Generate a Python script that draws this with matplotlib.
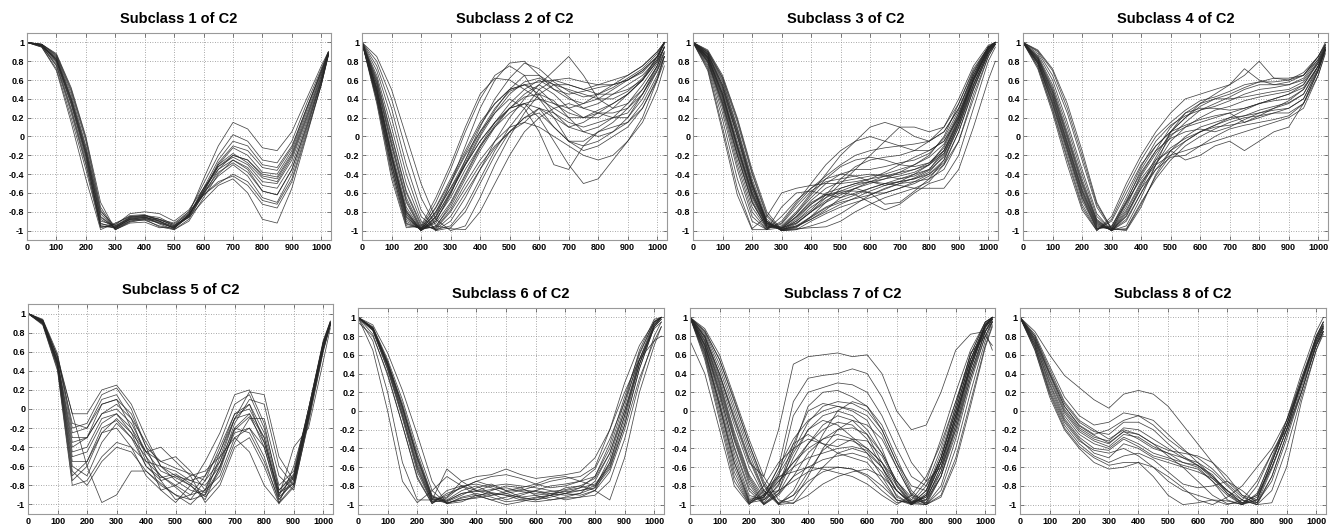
import matplotlib
matplotlib.use("Agg")
import matplotlib.pyplot as plt

# sample positions shared by every curve
x_knots = [0, 50, 100, 150, 200, 250, 300, 350, 400, 450, 500,
           550, 600, 650, 700, 750, 800, 850, 900, 950, 1000, 1024]

subclass1 = [
    [1.00, 0.97, 0.82, 0.40, -0.15, -0.85, -0.97, -0.88, -0.86, -0.90, -0.98, -0.82, -0.45, -0.10, 0.15, 0.08, -0.12, -0.15, 0.05, 0.40, 0.75, 0.90],
    [1.00, 0.98, 0.85, 0.45, -0.10, -0.80, -0.95, -0.85, -0.84, -0.88, -0.95, -0.80, -0.50, -0.20, 0.02, -0.05, -0.25, -0.28, -0.05, 0.35, 0.72, 0.90],
    [1.00, 0.96, 0.78, 0.30, -0.25, -0.92, -0.98, -0.90, -0.87, -0.92, -0.97, -0.85, -0.55, -0.25, -0.05, -0.10, -0.30, -0.33, -0.10, 0.30, 0.70, 0.88],
    [1.00, 0.97, 0.80, 0.35, -0.20, -0.95, -0.96, -0.86, -0.85, -0.93, -0.99, -0.88, -0.60, -0.30, -0.12, -0.20, -0.38, -0.40, -0.15, 0.28, 0.70, 0.90],
    [1.00, 0.95, 0.72, 0.20, -0.35, -0.97, -0.93, -0.84, -0.83, -0.90, -0.96, -0.86, -0.62, -0.35, -0.20, -0.25, -0.42, -0.45, -0.20, 0.22, 0.65, 0.88],
    [1.00, 0.98, 0.88, 0.52, 0.00, -0.70, -0.99, -0.90, -0.89, -0.95, -0.98, -0.84, -0.58, -0.32, -0.22, -0.30, -0.48, -0.50, -0.25, 0.18, 0.62, 0.87],
    [1.00, 0.97, 0.82, 0.38, -0.18, -0.90, -0.94, -0.82, -0.80, -0.82, -0.90, -0.78, -0.55, -0.35, -0.25, -0.33, -0.52, -0.55, -0.30, 0.15, 0.60, 0.88],
    [1.00, 0.96, 0.76, 0.28, -0.28, -0.95, -0.97, -0.88, -0.88, -0.96, -0.99, -0.90, -0.65, -0.40, -0.25, -0.35, -0.58, -0.62, -0.35, 0.10, 0.58, 0.87],
    [1.00, 0.98, 0.86, 0.48, -0.05, -0.78, -0.99, -0.92, -0.91, -0.97, -0.96, -0.83, -0.60, -0.42, -0.30, -0.42, -0.65, -0.70, -0.40, 0.08, 0.58, 0.88],
    [1.00, 0.97, 0.80, 0.34, -0.22, -0.93, -0.95, -0.87, -0.85, -0.88, -0.92, -0.80, -0.62, -0.50, -0.40, -0.48, -0.68, -0.72, -0.45, 0.05, 0.55, 0.86],
    [1.00, 0.95, 0.70, 0.15, -0.45, -0.99, -0.92, -0.85, -0.84, -0.86, -0.94, -0.86, -0.68, -0.52, -0.45, -0.60, -0.88, -0.92, -0.55, 0.00, 0.55, 0.87],
    [1.00, 0.97, 0.84, 0.42, -0.12, -0.82, -0.98, -0.89, -0.87, -0.91, -0.97, -0.84, -0.57, -0.30, -0.18, -0.28, -0.44, -0.48, -0.22, 0.20, 0.64, 0.89],
    [1.00, 0.97, 0.81, 0.37, -0.18, -0.88, -0.97, -0.87, -0.86, -0.90, -0.96, -0.83, -0.55, -0.32, -0.20, -0.25, -0.40, -0.43, -0.18, 0.25, 0.67, 0.89],
    [1.00, 0.98, 0.87, 0.50, -0.02, -0.75, -0.99, -0.91, -0.88, -0.92, -0.97, -0.85, -0.60, -0.38, -0.28, -0.38, -0.58, -0.62, -0.35, 0.12, 0.60, 0.88],
    [1.00, 0.96, 0.75, 0.25, -0.30, -0.96, -0.96, -0.86, -0.84, -0.88, -0.95, -0.84, -0.58, -0.28, -0.10, -0.15, -0.33, -0.36, -0.12, 0.30, 0.68, 0.89],
    [1.00, 0.97, 0.83, 0.40, -0.15, -0.86, -0.97, -0.88, -0.86, -0.89, -0.93, -0.82, -0.62, -0.48, -0.42, -0.52, -0.72, -0.76, -0.48, 0.02, 0.55, 0.86],
]

subclass2 = [
    [1.00, 0.50, -0.20, -0.80, -0.99, -0.90, -0.62, -0.25, 0.10, 0.40, 0.62, 0.78, 0.72, 0.58, 0.48, 0.42, 0.45, 0.52, 0.62, 0.72, 0.88, 1.00],
    [1.00, 0.40, -0.35, -0.92, -0.98, -0.75, -0.45, -0.15, 0.15, 0.35, 0.50, 0.55, 0.50, 0.35, 0.25, 0.20, 0.28, 0.35, 0.45, 0.60, 0.80, 0.95],
    [1.00, 0.55, -0.10, -0.70, -0.99, -0.95, -0.75, -0.45, -0.15, 0.10, 0.30, 0.45, 0.55, 0.45, 0.30, 0.20, 0.20, 0.30, 0.45, 0.60, 0.85, 1.00],
    [1.00, 0.45, -0.30, -0.88, -0.99, -0.80, -0.55, -0.30, -0.05, 0.15, 0.30, 0.35, 0.30, 0.10, -0.05, -0.05, 0.05, 0.15, 0.30, 0.50, 0.75, 0.90],
    [1.00, 0.60, 0.00, -0.60, -0.95, -0.98, -0.80, -0.55, -0.30, -0.10, 0.05, 0.15, 0.30, 0.20, -0.05, -0.10, -0.05, 0.05, 0.15, 0.35, 0.65, 0.85],
    [1.00, 0.48, -0.22, -0.82, -1.00, -0.85, -0.50, -0.10, 0.30, 0.60, 0.78, 0.80, 0.65, 0.50, 0.45, 0.48, 0.52, 0.55, 0.60, 0.70, 0.85, 1.00],
    [1.00, 0.85, 0.50, 0.00, -0.50, -0.88, -1.00, -0.95, -0.65, -0.30, 0.00, 0.25, 0.45, 0.55, 0.55, 0.50, 0.45, 0.45, 0.50, 0.60, 0.80, 0.95],
    [1.00, 0.80, 0.40, -0.15, -0.65, -0.95, -0.98, -0.99, -0.80, -0.50, -0.20, 0.05, 0.20, 0.30, 0.35, 0.30, 0.25, 0.25, 0.30, 0.45, 0.70, 0.85],
    [1.00, 0.65, 0.10, -0.50, -0.90, -1.00, -0.90, -0.65, -0.35, -0.05, 0.20, 0.40, 0.55, 0.70, 0.85, 0.65, 0.40, 0.30, 0.35, 0.50, 0.75, 0.95],
    [1.00, 0.50, -0.20, -0.80, -1.00, -0.85, -0.60, -0.30, -0.05, 0.15, 0.30, 0.35, 0.20, -0.05, -0.30, -0.50, -0.45, -0.25, -0.05, 0.20, 0.60, 0.85],
    [1.00, 0.42, -0.30, -0.90, -0.99, -0.80, -0.50, -0.20, 0.05, 0.25, 0.40, 0.30, 0.05, -0.30, -0.35, -0.10, 0.05, 0.10, 0.15, 0.30, 0.60, 0.80],
    [1.00, 0.52, -0.15, -0.75, -0.99, -0.92, -0.70, -0.40, -0.10, 0.15, 0.35, 0.50, 0.60, 0.50, 0.40, 0.35, 0.40, 0.50, 0.60, 0.70, 0.85, 1.00],
    [1.00, 0.38, -0.40, -0.95, -0.97, -0.70, -0.35, 0.05, 0.40, 0.65, 0.75, 0.65, 0.40, 0.20, 0.10, 0.15, 0.25, 0.35, 0.45, 0.60, 0.82, 1.00],
    [1.00, 0.58, -0.05, -0.65, -0.97, -0.97, -0.78, -0.50, -0.25, -0.05, 0.10, 0.15, 0.10, 0.00, -0.10, -0.20, -0.25, -0.20, -0.05, 0.15, 0.50, 0.75],
    [1.00, 0.70, 0.20, -0.40, -0.85, -0.99, -0.95, -0.75, -0.45, -0.15, 0.10, 0.30, 0.50, 0.60, 0.55, 0.50, 0.55, 0.60, 0.65, 0.75, 0.90, 1.00],
    [1.00, 0.46, -0.25, -0.85, -1.00, -0.88, -0.65, -0.35, -0.10, 0.10, 0.25, 0.35, 0.40, 0.30, 0.20, 0.20, 0.25, 0.20, 0.20, 0.40, 0.70, 0.90],
    [1.00, 0.35, -0.45, -0.97, -0.95, -0.65, -0.30, 0.10, 0.45, 0.62, 0.60, 0.50, 0.40, 0.35, 0.30, 0.35, 0.45, 0.55, 0.65, 0.75, 0.90, 1.00],
    [1.00, 0.52, -0.18, -0.78, -1.00, -0.90, -0.60, -0.30, 0.00, 0.25, 0.45, 0.58, 0.62, 0.55, 0.42, 0.30, 0.35, 0.45, 0.55, 0.65, 0.82, 1.00],
    [1.00, 0.44, -0.28, -0.86, -0.99, -0.82, -0.55, -0.25, 0.05, 0.30, 0.48, 0.55, 0.45, 0.25, 0.10, 0.05, 0.10, 0.20, 0.35, 0.55, 0.78, 0.95],
    [1.00, 0.75, 0.30, -0.30, -0.78, -1.00, -0.97, -0.80, -0.50, -0.20, 0.05, 0.20, 0.30, 0.25, 0.15, 0.10, 0.15, 0.20, 0.25, 0.45, 0.72, 0.88],
    [1.00, 0.56, -0.08, -0.68, -0.98, -0.96, -0.72, -0.42, -0.12, 0.12, 0.30, 0.42, 0.45, 0.38, 0.20, 0.05, 0.00, 0.05, 0.20, 0.45, 0.75, 0.95],
    [1.00, 0.48, -0.22, -0.83, -1.00, -0.86, -0.58, -0.28, 0.02, 0.28, 0.50, 0.65, 0.65, 0.55, 0.50, 0.45, 0.40, 0.40, 0.48, 0.62, 0.85, 1.00],
    [1.00, 0.62, 0.02, -0.58, -0.93, -0.99, -0.85, -0.60, -0.35, -0.12, 0.05, 0.20, 0.25, 0.10, -0.05, -0.15, -0.10, 0.00, 0.10, 0.30, 0.62, 0.85],
    [1.00, 0.40, -0.35, -0.93, -0.98, -0.76, -0.48, -0.18, 0.12, 0.35, 0.50, 0.55, 0.58, 0.60, 0.62, 0.58, 0.55, 0.55, 0.60, 0.68, 0.85, 0.98],
]

subclass3 = [
    [1.00, 0.88, 0.55, 0.05, -0.50, -0.90, -1.00, -0.90, -0.75, -0.65, -0.58, -0.52, -0.48, -0.45, -0.42, -0.38, -0.30, -0.10, 0.25, 0.65, 0.95, 1.00],
    [1.00, 0.82, 0.40, -0.15, -0.65, -0.95, -0.98, -0.85, -0.68, -0.55, -0.48, -0.45, -0.42, -0.40, -0.35, -0.30, -0.20, 0.00, 0.35, 0.72, 0.95, 1.00],
    [1.00, 0.90, 0.62, 0.15, -0.40, -0.85, -1.00, -0.97, -0.85, -0.75, -0.68, -0.62, -0.55, -0.50, -0.48, -0.45, -0.40, -0.25, 0.10, 0.55, 0.90, 0.98],
    [1.00, 0.78, 0.30, -0.30, -0.80, -0.99, -0.90, -0.70, -0.50, -0.30, -0.15, -0.05, 0.00, -0.05, -0.10, -0.15, -0.15, -0.05, 0.25, 0.60, 0.92, 1.00],
    [1.00, 0.85, 0.48, -0.05, -0.55, -0.92, -0.99, -0.92, -0.80, -0.65, -0.50, -0.35, -0.20, -0.05, 0.10, 0.10, 0.05, 0.10, 0.35, 0.70, 0.95, 1.00],
    [1.00, 0.72, 0.10, -0.55, -0.98, -0.85, -0.60, -0.55, -0.52, -0.50, -0.50, -0.48, -0.45, -0.42, -0.40, -0.35, -0.28, -0.15, 0.15, 0.55, 0.90, 1.00],
    [1.00, 0.88, 0.55, 0.05, -0.50, -0.92, -0.97, -0.85, -0.70, -0.62, -0.60, -0.62, -0.70, -0.78, -0.72, -0.60, -0.50, -0.45, -0.20, 0.30, 0.80, 0.95],
    [1.00, 0.86, 0.50, 0.00, -0.55, -0.92, -1.00, -0.98, -0.97, -0.96, -0.90, -0.80, -0.72, -0.65, -0.60, -0.55, -0.48, -0.30, 0.05, 0.50, 0.88, 1.00],
    [1.00, 0.80, 0.35, -0.20, -0.70, -0.97, -0.95, -0.80, -0.60, -0.40, -0.20, -0.05, 0.10, 0.15, 0.10, 0.00, -0.05, 0.05, 0.30, 0.65, 0.92, 1.00],
    [1.00, 0.92, 0.65, 0.20, -0.35, -0.80, -0.99, -0.95, -0.85, -0.70, -0.55, -0.50, -0.48, -0.50, -0.52, -0.55, -0.55, -0.55, -0.35, 0.10, 0.60, 0.80],
    [1.00, 0.84, 0.45, -0.10, -0.60, -0.94, -0.99, -0.88, -0.72, -0.60, -0.55, -0.50, -0.45, -0.38, -0.30, -0.22, -0.15, -0.05, 0.20, 0.60, 0.93, 1.00],
    [1.00, 0.76, 0.25, -0.35, -0.85, -0.99, -0.75, -0.60, -0.58, -0.62, -0.65, -0.60, -0.55, -0.50, -0.45, -0.40, -0.35, -0.15, 0.20, 0.62, 0.93, 1.00],
    [1.00, 0.87, 0.52, 0.00, -0.52, -0.90, -1.00, -0.93, -0.80, -0.70, -0.62, -0.55, -0.60, -0.72, -0.70, -0.58, -0.45, -0.25, 0.15, 0.60, 0.92, 1.00],
    [1.00, 0.83, 0.42, -0.12, -0.62, -0.95, -0.98, -0.90, -0.78, -0.62, -0.45, -0.32, -0.25, -0.22, -0.20, -0.15, -0.05, 0.10, 0.40, 0.75, 0.97, 1.00],
    [1.00, 0.90, 0.60, 0.10, -0.45, -0.88, -1.00, -0.99, -0.90, -0.82, -0.75, -0.70, -0.65, -0.60, -0.55, -0.50, -0.42, -0.30, -0.05, 0.40, 0.85, 0.98],
    [1.00, 0.81, 0.38, -0.18, -0.68, -0.96, -0.97, -0.82, -0.65, -0.50, -0.40, -0.35, -0.35, -0.32, -0.28, -0.25, -0.18, -0.02, 0.28, 0.68, 0.95, 1.00],
    [1.00, 0.85, 0.45, -0.10, -0.60, -0.93, -0.99, -0.95, -0.88, -0.80, -0.72, -0.65, -0.58, -0.52, -0.48, -0.45, -0.38, -0.20, 0.15, 0.58, 0.92, 1.00],
    [1.00, 0.79, 0.33, -0.25, -0.75, -0.98, -0.93, -0.75, -0.58, -0.48, -0.45, -0.42, -0.40, -0.42, -0.45, -0.42, -0.35, -0.18, 0.18, 0.62, 0.94, 1.00],
    [1.00, 0.70, 0.05, -0.62, -0.99, -0.99, -0.97, -0.92, -0.80, -0.68, -0.60, -0.55, -0.50, -0.45, -0.38, -0.30, -0.22, -0.08, 0.22, 0.62, 0.93, 1.00],
    [1.00, 0.89, 0.58, 0.08, -0.48, -0.90, -0.99, -0.96, -0.88, -0.78, -0.65, -0.55, -0.48, -0.42, -0.38, -0.35, -0.30, -0.18, 0.12, 0.55, 0.90, 1.00],
    [1.00, 0.83, 0.43, -0.12, -0.63, -0.95, -0.96, -0.82, -0.62, -0.45, -0.32, -0.25, -0.22, -0.25, -0.30, -0.32, -0.28, -0.12, 0.22, 0.65, 0.95, 1.00],
    [1.00, 0.87, 0.53, 0.02, -0.52, -0.91, -1.00, -0.96, -0.86, -0.76, -0.70, -0.66, -0.62, -0.56, -0.50, -0.44, -0.36, -0.22, 0.10, 0.52, 0.88, 0.98],
    [1.00, 0.80, 0.36, -0.20, -0.70, -0.97, -0.92, -0.72, -0.55, -0.45, -0.40, -0.42, -0.48, -0.52, -0.48, -0.40, -0.30, -0.15, 0.18, 0.60, 0.92, 1.00],
    [1.00, 0.91, 0.63, 0.18, -0.38, -0.83, -1.00, -0.99, -0.95, -0.90, -0.82, -0.72, -0.62, -0.55, -0.50, -0.48, -0.45, -0.35, -0.05, 0.45, 0.85, 0.98],
    [1.00, 0.74, 0.18, -0.45, -0.90, -0.99, -0.85, -0.68, -0.55, -0.42, -0.30, -0.20, -0.15, -0.12, -0.10, -0.08, -0.05, 0.05, 0.30, 0.68, 0.95, 1.00],
    [1.00, 0.84, 0.46, -0.08, -0.58, -0.93, -0.98, -0.86, -0.72, -0.62, -0.58, -0.58, -0.60, -0.60, -0.55, -0.48, -0.40, -0.28, 0.05, 0.50, 0.88, 1.00],
]

subclass4 = [
    [1.00, 0.80, 0.40, -0.10, -0.60, -0.95, -0.99, -0.70, -0.35, -0.10, 0.05, 0.12, 0.18, 0.22, 0.25, 0.30, 0.35, 0.40, 0.45, 0.55, 0.80, 0.95],
    [1.00, 0.85, 0.52, 0.05, -0.45, -0.88, -1.00, -0.85, -0.55, -0.25, 0.00, 0.15, 0.28, 0.35, 0.42, 0.50, 0.55, 0.55, 0.55, 0.60, 0.80, 0.95],
    [1.00, 0.92, 0.72, 0.35, -0.15, -0.70, -0.98, -1.00, -0.75, -0.40, -0.15, 0.00, 0.10, 0.15, 0.20, 0.22, 0.25, 0.30, 0.38, 0.50, 0.75, 0.92],
    [1.00, 0.75, 0.30, -0.22, -0.72, -0.99, -0.90, -0.60, -0.30, -0.10, 0.05, 0.20, 0.35, 0.45, 0.55, 0.72, 0.60, 0.55, 0.58, 0.65, 0.85, 1.00],
    [1.00, 0.82, 0.45, -0.05, -0.55, -0.92, -1.00, -0.80, -0.50, -0.30, -0.20, -0.15, -0.10, -0.05, 0.00, 0.05, 0.10, 0.15, 0.20, 0.30, 0.65, 0.90],
    [1.00, 0.78, 0.35, -0.15, -0.65, -0.98, -0.95, -0.70, -0.45, -0.25, -0.15, -0.25, -0.20, -0.10, -0.05, -0.15, -0.05, 0.05, 0.10, 0.35, 0.70, 0.92],
    [1.00, 0.88, 0.60, 0.15, -0.35, -0.82, -1.00, -0.95, -0.65, -0.30, 0.05, 0.25, 0.35, 0.40, 0.40, 0.42, 0.45, 0.48, 0.50, 0.58, 0.78, 0.93],
    [1.00, 0.80, 0.42, -0.08, -0.58, -0.94, -0.99, -0.75, -0.40, -0.15, 0.10, 0.25, 0.30, 0.30, 0.28, 0.30, 0.35, 0.38, 0.40, 0.50, 0.75, 0.93],
    [1.00, 0.72, 0.25, -0.30, -0.78, -1.00, -0.85, -0.50, -0.20, 0.05, 0.25, 0.40, 0.45, 0.50, 0.55, 0.65, 0.80, 0.62, 0.60, 0.68, 0.85, 0.98],
    [1.00, 0.83, 0.48, 0.00, -0.50, -0.90, -1.00, -0.82, -0.55, -0.35, -0.22, -0.20, -0.10, 0.00, 0.08, 0.12, 0.15, 0.18, 0.22, 0.35, 0.70, 0.93],
    [1.00, 0.90, 0.65, 0.25, -0.25, -0.75, -0.99, -0.98, -0.70, -0.45, -0.25, -0.10, 0.00, 0.08, 0.15, 0.20, 0.22, 0.25, 0.25, 0.35, 0.65, 0.88],
    [1.00, 0.77, 0.33, -0.18, -0.68, -0.98, -0.96, -0.65, -0.32, -0.05, 0.12, 0.22, 0.28, 0.32, 0.38, 0.45, 0.50, 0.52, 0.55, 0.62, 0.82, 0.97],
    [1.00, 0.84, 0.50, 0.02, -0.48, -0.89, -1.00, -0.88, -0.60, -0.35, -0.15, -0.05, 0.05, 0.12, 0.18, 0.22, 0.28, 0.32, 0.36, 0.45, 0.72, 0.92],
    [1.00, 0.79, 0.38, -0.12, -0.62, -0.96, -0.98, -0.72, -0.42, -0.18, 0.02, 0.10, 0.15, 0.20, 0.25, 0.15, 0.22, 0.30, 0.35, 0.45, 0.75, 0.95],
    [1.00, 0.86, 0.55, 0.10, -0.40, -0.85, -1.00, -0.90, -0.60, -0.30, -0.05, 0.10, 0.20, 0.28, 0.32, 0.38, 0.42, 0.45, 0.48, 0.55, 0.78, 0.95],
    [1.00, 0.74, 0.28, -0.25, -0.75, -1.00, -0.88, -0.55, -0.25, 0.00, 0.15, 0.28, 0.38, 0.42, 0.48, 0.55, 0.58, 0.58, 0.60, 0.65, 0.85, 0.98],
    [1.00, 0.81, 0.43, -0.07, -0.57, -0.93, -0.99, -0.78, -0.48, -0.28, -0.12, -0.02, 0.05, 0.10, 0.12, 0.15, 0.20, 0.25, 0.30, 0.40, 0.70, 0.92],
    [1.00, 0.91, 0.70, 0.30, -0.20, -0.72, -0.98, -0.99, -0.72, -0.42, -0.20, -0.05, 0.05, 0.12, 0.20, 0.28, 0.35, 0.40, 0.45, 0.52, 0.75, 0.92],
    [1.00, 0.78, 0.36, -0.14, -0.64, -0.97, -0.97, -0.68, -0.38, -0.15, -0.02, 0.05, 0.08, 0.05, 0.10, 0.18, 0.25, 0.28, 0.30, 0.40, 0.72, 0.93],
    [1.00, 0.83, 0.47, -0.02, -0.52, -0.91, -1.00, -0.84, -0.52, -0.22, 0.05, 0.20, 0.32, 0.40, 0.45, 0.52, 0.58, 0.62, 0.62, 0.65, 0.82, 0.97],
]

subclass5 = [
    [1.00, 0.92, 0.50, -0.40, -0.30, 0.05, 0.10, -0.20, -0.55, -0.70, -0.80, -0.90, -0.85, -0.45, -0.05, 0.05, -0.35, -0.90, -0.70, 0.00, 0.70, 0.90],
    [1.00, 0.90, 0.45, -0.60, -0.70, -0.35, -0.15, -0.30, -0.50, -0.70, -0.82, -0.95, -0.90, -0.50, -0.10, -0.05, -0.40, -0.95, -0.75, -0.05, 0.65, 0.90],
    [1.00, 0.94, 0.58, -0.20, -0.15, 0.15, 0.22, 0.00, -0.40, -0.75, -0.95, -0.90, -0.70, -0.35, 0.05, 0.15, -0.20, -0.80, -0.65, 0.00, 0.72, 0.92],
    [1.00, 0.88, 0.40, -0.80, -0.75, -0.50, -0.35, -0.40, -0.55, -0.60, -0.65, -0.75, -0.80, -0.60, -0.25, -0.20, -0.50, -0.98, -0.80, -0.10, 0.62, 0.88],
    [1.00, 0.91, 0.50, -0.35, -0.30, -0.05, 0.00, -0.15, -0.45, -0.65, -0.72, -0.80, -0.95, -0.60, -0.15, 0.10, 0.05, -0.60, -0.80, -0.10, 0.65, 0.90],
    [1.00, 0.93, 0.55, -0.25, -0.20, 0.10, 0.15, -0.10, -0.50, -0.85, -0.98, -0.80, -0.55, -0.25, 0.15, 0.20, -0.15, -0.85, -0.70, 0.00, 0.70, 0.92],
    [1.00, 0.90, 0.48, -0.50, -0.45, -0.15, -0.05, -0.20, -0.45, -0.55, -0.50, -0.65, -0.85, -0.70, -0.30, -0.20, -0.40, -0.92, -0.78, -0.05, 0.68, 0.90],
    [1.00, 0.92, 0.52, -0.05, -0.60, -0.98, -0.90, -0.65, -0.65, -0.80, -0.90, -0.95, -0.75, -0.40, -0.05, 0.00, -0.30, -0.88, -0.72, -0.05, 0.68, 0.90],
    [1.00, 0.89, 0.42, -0.75, -0.60, -0.25, -0.10, -0.25, -0.45, -0.40, -0.55, -0.70, -0.98, -0.80, -0.40, -0.30, -0.60, -0.99, -0.82, -0.15, 0.60, 0.88],
    [1.00, 0.92, 0.50, -0.30, -0.30, -0.05, 0.05, -0.10, -0.35, -0.60, -0.75, -0.85, -0.90, -0.65, -0.20, -0.05, -0.30, -0.92, -0.40, -0.20, 0.50, 0.85],
    [1.00, 0.91, 0.47, -0.55, -0.55, -0.25, -0.20, -0.40, -0.70, -0.85, -0.80, -0.70, -0.65, -0.50, -0.30, -0.45, -0.80, -0.99, -0.60, -0.05, 0.65, 0.90],
    [1.00, 0.93, 0.55, -0.05, -0.05, 0.20, 0.25, 0.05, -0.30, -0.60, -0.70, -0.75, -0.70, -0.45, -0.10, 0.05, -0.25, -0.85, -0.68, -0.05, 0.70, 0.90],
    [1.00, 0.91, 0.48, -0.45, -0.40, -0.10, -0.05, -0.25, -0.60, -0.75, -0.70, -0.80, -0.92, -0.75, -0.35, -0.10, -0.10, -0.70, -0.85, -0.12, 0.62, 0.88],
    [1.00, 0.90, 0.46, -0.65, -0.80, -0.55, -0.40, -0.45, -0.65, -0.78, -0.90, -1.00, -0.85, -0.55, -0.20, -0.25, -0.55, -0.95, -0.72, -0.05, 0.66, 0.90],
    [1.00, 0.93, 0.54, -0.15, -0.20, 0.05, 0.10, -0.05, -0.40, -0.55, -0.62, -0.68, -0.75, -0.55, -0.10, 0.18, 0.15, -0.50, -0.75, -0.10, 0.68, 0.91],
    [1.00, 0.89, 0.44, -0.70, -0.55, -0.20, -0.12, -0.30, -0.60, -0.72, -0.68, -0.78, -0.88, -0.62, -0.22, -0.08, -0.35, -0.88, -0.78, -0.08, 0.64, 0.89],
]

subclass6 = [
    [1.00, 0.88, 0.50, 0.05, -0.50, -0.92, -0.95, -0.85, -0.80, -0.88, -0.95, -0.90, -0.85, -0.80, -0.78, -0.75, -0.70, -0.40, 0.10, 0.65, 0.98, 1.00],
    [1.00, 0.90, 0.55, 0.12, -0.40, -0.85, -0.99, -0.92, -0.88, -0.92, -0.97, -0.95, -0.92, -0.90, -0.88, -0.85, -0.80, -0.55, -0.05, 0.55, 0.95, 1.00],
    [1.00, 0.86, 0.45, -0.05, -0.60, -0.97, -0.90, -0.82, -0.75, -0.80, -0.85, -0.82, -0.78, -0.72, -0.70, -0.75, -0.80, -0.60, -0.15, 0.45, 0.90, 0.98],
    [1.00, 0.65, 0.00, -0.75, -0.98, -0.85, -0.70, -0.80, -0.90, -0.95, -0.92, -0.88, -0.85, -0.88, -0.90, -0.88, -0.75, -0.45, 0.00, 0.50, 0.90, 0.98],
    [1.00, 0.89, 0.52, 0.08, -0.45, -0.90, -0.98, -0.95, -0.92, -0.85, -0.80, -0.82, -0.90, -0.95, -0.92, -0.88, -0.82, -0.50, 0.00, 0.55, 0.92, 1.00],
    [1.00, 0.87, 0.48, 0.00, -0.55, -0.95, -0.92, -0.75, -0.70, -0.68, -0.62, -0.68, -0.72, -0.70, -0.68, -0.65, -0.50, -0.20, 0.20, 0.55, 0.75, 0.80],
    [1.00, 0.92, 0.62, 0.22, -0.25, -0.75, -0.99, -0.97, -0.90, -0.88, -0.90, -0.95, -0.97, -0.95, -0.93, -0.92, -0.90, -0.75, -0.30, 0.30, 0.80, 0.95],
    [1.00, 0.88, 0.50, 0.02, -0.50, -0.93, -0.97, -0.90, -0.82, -0.78, -0.85, -0.92, -0.95, -0.90, -0.82, -0.80, -0.85, -0.95, -0.50, 0.20, 0.70, 0.90],
    [1.00, 0.82, 0.38, -0.15, -0.70, -0.99, -0.85, -0.80, -0.85, -0.90, -0.88, -0.85, -0.80, -0.75, -0.72, -0.70, -0.60, -0.20, 0.30, 0.70, 0.95, 1.00],
    [1.00, 0.89, 0.53, 0.05, -0.48, -0.91, -0.99, -0.93, -0.90, -0.95, -1.00, -0.97, -0.93, -0.90, -0.85, -0.82, -0.78, -0.58, -0.10, 0.50, 0.93, 1.00],
    [1.00, 0.75, 0.20, -0.55, -0.95, -0.95, -0.62, -0.75, -0.85, -0.80, -0.78, -0.80, -0.82, -0.85, -0.88, -0.90, -0.85, -0.65, -0.20, 0.35, 0.75, 0.90],
    [1.00, 0.88, 0.51, 0.04, -0.52, -0.94, -0.96, -0.88, -0.86, -0.84, -0.82, -0.86, -0.88, -0.86, -0.84, -0.80, -0.72, -0.45, 0.05, 0.60, 0.96, 1.00],
    [1.00, 0.87, 0.47, -0.05, -0.62, -0.97, -0.96, -0.88, -0.85, -0.87, -0.90, -0.92, -0.90, -0.88, -0.86, -0.85, -0.82, -0.62, -0.15, 0.45, 0.90, 1.00],
    [1.00, 0.86, 0.44, -0.08, -0.65, -0.98, -0.93, -0.80, -0.78, -0.82, -0.88, -0.93, -0.95, -0.92, -0.88, -0.82, -0.70, -0.35, 0.15, 0.62, 0.95, 1.00],
    [1.00, 0.88, 0.49, -0.02, -0.58, -0.95, -0.98, -0.95, -0.93, -0.90, -0.86, -0.84, -0.86, -0.90, -0.95, -0.92, -0.85, -0.55, -0.05, 0.50, 0.92, 1.00],
    [0.95, 0.80, 0.40, -0.15, -0.72, -0.99, -0.88, -0.82, -0.75, -0.70, -0.68, -0.72, -0.78, -0.82, -0.80, -0.75, -0.62, -0.30, 0.10, 0.55, 0.88, 0.95],
]

subclass7 = [
    [1.00, 0.70, 0.20, -0.40, -0.85, -1.00, -0.90, -0.70, -0.45, -0.30, -0.25, -0.30, -0.45, -0.70, -0.95, -0.98, -0.80, -0.40, 0.10, 0.60, 0.95, 1.00],
    [1.00, 0.80, 0.40, -0.10, -0.55, -0.70, -0.20, 0.50, 0.58, 0.60, 0.62, 0.58, 0.60, 0.40, 0.00, -0.20, -0.15, 0.20, 0.65, 0.82, 0.85, 0.65],
    [1.00, 0.75, 0.30, -0.25, -0.70, -0.95, -0.80, -0.35, 0.00, 0.08, 0.05, 0.00, -0.10, -0.40, -0.80, -1.00, -0.90, -0.50, 0.00, 0.55, 0.92, 1.00],
    [1.00, 0.60, 0.00, -0.65, -0.98, -0.95, -0.85, -0.75, -0.65, -0.60, -0.60, -0.62, -0.70, -0.85, -0.98, -0.95, -0.75, -0.30, 0.20, 0.65, 0.95, 1.00],
    [1.00, 0.85, 0.55, 0.10, -0.35, -0.75, -0.99, -0.95, -0.70, -0.40, -0.20, -0.10, -0.15, -0.30, -0.60, -0.90, -1.00, -0.85, -0.40, 0.20, 0.75, 0.95],
    [1.00, 0.65, 0.05, -0.55, -0.95, -0.90, -0.60, -0.30, -0.10, 0.00, 0.05, 0.02, -0.05, -0.25, -0.60, -0.90, -0.95, -0.60, -0.10, 0.45, 0.90, 1.00],
    [1.00, 0.78, 0.35, -0.15, -0.60, -0.90, -0.60, 0.10, 0.35, 0.38, 0.40, 0.45, 0.40, 0.15, -0.20, -0.55, -0.75, -0.60, -0.20, 0.40, 0.85, 0.98],
    [1.00, 0.55, -0.10, -0.75, -0.99, -0.80, -0.55, -0.40, -0.30, -0.35, -0.45, -0.50, -0.55, -0.75, -0.95, -1.00, -0.90, -0.55, -0.05, 0.50, 0.92, 1.00],
    [1.00, 0.82, 0.45, 0.00, -0.45, -0.85, -1.00, -0.85, -0.55, -0.25, 0.00, 0.10, 0.05, -0.15, -0.50, -0.85, -1.00, -0.70, -0.20, 0.35, 0.85, 0.98],
    [1.00, 0.72, 0.25, -0.30, -0.75, -0.99, -0.88, -0.60, -0.35, -0.15, -0.05, -0.10, -0.25, -0.55, -0.85, -0.99, -0.85, -0.45, 0.05, 0.60, 0.95, 1.00],
    [1.00, 0.68, 0.15, -0.45, -0.90, -0.95, -0.75, -0.60, -0.50, -0.45, -0.40, -0.38, -0.42, -0.60, -0.85, -1.00, -0.95, -0.70, -0.25, 0.35, 0.80, 0.95],
    [1.00, 0.88, 0.60, 0.15, -0.30, -0.70, -0.95, -0.99, -0.80, -0.60, -0.45, -0.40, -0.45, -0.60, -0.85, -0.99, -1.00, -0.90, -0.50, 0.10, 0.70, 0.92],
    [1.00, 0.76, 0.32, -0.22, -0.68, -0.92, -0.70, -0.05, 0.20, 0.25, 0.30, 0.28, 0.20, -0.05, -0.40, -0.70, -0.80, -0.55, -0.10, 0.50, 0.90, 1.00],
    [1.00, 0.62, 0.05, -0.60, -0.97, -0.92, -0.72, -0.55, -0.40, -0.30, -0.20, -0.18, -0.25, -0.45, -0.75, -0.97, -0.95, -0.60, -0.05, 0.50, 0.92, 1.00],
    [1.00, 0.80, 0.40, -0.05, -0.50, -0.85, -0.98, -0.90, -0.75, -0.65, -0.60, -0.62, -0.68, -0.80, -0.95, -0.99, -0.92, -0.65, -0.15, 0.45, 0.90, 0.99],
    [1.00, 0.70, 0.18, -0.38, -0.82, -0.99, -0.85, -0.50, -0.20, -0.05, 0.00, -0.05, -0.20, -0.45, -0.75, -0.95, -0.98, -0.70, -0.15, 0.40, 0.85, 0.98],
    [0.75, 0.40, -0.20, -0.80, -1.00, -0.85, -0.70, -0.65, -0.60, -0.62, -0.66, -0.70, -0.78, -0.90, -1.00, -0.90, -0.70, -0.35, 0.10, 0.55, 0.85, 0.95],
    [1.00, 0.58, -0.05, -0.70, -0.99, -0.90, -0.75, -0.55, -0.35, -0.20, -0.12, -0.15, -0.30, -0.60, -0.92, -0.99, -0.85, -0.50, 0.00, 0.55, 0.93, 1.00],
    [1.00, 0.74, 0.28, -0.28, -0.72, -0.98, -0.78, -0.45, -0.20, -0.10, -0.15, -0.28, -0.40, -0.55, -0.80, -0.98, -0.90, -0.55, -0.05, 0.50, 0.90, 0.98],
    [1.00, 0.84, 0.50, 0.05, -0.40, -0.80, -1.00, -0.98, -0.90, -0.78, -0.70, -0.65, -0.62, -0.70, -0.85, -0.97, -1.00, -0.80, -0.30, 0.30, 0.80, 0.96],
    [1.00, 0.66, 0.10, -0.50, -0.93, -0.93, -0.65, -0.35, -0.25, -0.35, -0.38, -0.30, -0.32, -0.48, -0.78, -0.98, -0.92, -0.55, -0.05, 0.45, 0.88, 1.00],
    [1.00, 0.79, 0.38, -0.08, -0.52, -0.88, -0.85, -0.40, 0.05, 0.20, 0.22, 0.15, 0.05, -0.20, -0.55, -0.80, -0.85, -0.50, 0.05, 0.62, 0.80, 0.70],
    [1.00, 0.71, 0.22, -0.32, -0.78, -1.00, -0.88, -0.70, -0.60, -0.52, -0.48, -0.45, -0.50, -0.65, -0.90, -1.00, -0.88, -0.50, 0.00, 0.55, 0.92, 1.00],
    [1.00, 0.86, 0.55, 0.12, -0.35, -0.78, -0.99, -0.90, -0.65, -0.42, -0.30, -0.32, -0.40, -0.55, -0.75, -0.92, -1.00, -0.92, -0.55, 0.05, 0.68, 0.90],
    [1.00, 0.64, 0.08, -0.55, -0.96, -0.92, -0.68, -0.42, -0.12, 0.05, 0.10, 0.08, 0.00, -0.20, -0.55, -0.88, -0.98, -0.65, -0.10, 0.48, 0.90, 1.00],
]

subclass8 = [
    [1.00, 0.75, 0.35, 0.00, -0.20, -0.30, -0.35, -0.22, -0.30, -0.40, -0.45, -0.55, -0.60, -0.75, -0.90, -1.00, -0.95, -0.60, -0.20, 0.30, 0.75, 0.90],
    [1.00, 0.85, 0.60, 0.38, 0.25, 0.12, 0.03, 0.18, 0.22, 0.18, 0.05, -0.15, -0.35, -0.55, -0.75, -0.90, -0.95, -0.55, -0.15, 0.35, 0.75, 0.90],
    [1.00, 0.70, 0.25, -0.10, -0.30, -0.45, -0.50, -0.35, -0.40, -0.50, -0.55, -0.60, -0.65, -0.72, -0.85, -0.98, -0.90, -0.50, -0.10, 0.35, 0.80, 0.95],
    [1.00, 0.78, 0.40, 0.05, -0.15, -0.25, -0.20, -0.10, -0.05, -0.10, -0.25, -0.40, -0.55, -0.70, -0.85, -0.95, -1.00, -0.70, -0.25, 0.25, 0.70, 0.85],
    [1.00, 0.65, 0.15, -0.20, -0.40, -0.55, -0.62, -0.60, -0.55, -0.70, -0.90, -1.00, -0.98, -0.95, -0.96, -1.00, -0.80, -0.45, -0.15, 0.30, 0.75, 0.90],
    [1.00, 0.80, 0.45, 0.10, -0.10, -0.20, -0.30, -0.20, -0.25, -0.35, -0.42, -0.45, -0.48, -0.55, -0.70, -0.90, -1.00, -0.85, -0.40, 0.15, 0.65, 0.82],
    [1.00, 0.72, 0.30, -0.05, -0.25, -0.35, -0.40, -0.28, -0.35, -0.45, -0.50, -0.55, -0.58, -0.68, -0.88, -1.00, -0.92, -0.55, -0.15, 0.32, 0.78, 0.95],
    [1.00, 0.68, 0.22, -0.12, -0.32, -0.42, -0.45, -0.40, -0.48, -0.60, -0.75, -0.85, -0.90, -0.95, -1.00, -0.95, -0.75, -0.45, -0.20, 0.20, 0.70, 0.85],
    [1.00, 0.82, 0.48, 0.15, -0.05, -0.15, -0.12, -0.02, -0.05, -0.15, -0.30, -0.42, -0.50, -0.62, -0.78, -0.92, -0.98, -0.75, -0.30, 0.20, 0.72, 0.88],
    [1.00, 0.74, 0.33, -0.02, -0.22, -0.32, -0.38, -0.25, -0.28, -0.38, -0.45, -0.50, -0.55, -0.65, -0.80, -0.95, -1.00, -0.98, -0.60, 0.10, 0.65, 0.85],
    [1.00, 0.66, 0.18, -0.18, -0.38, -0.50, -0.58, -0.55, -0.55, -0.60, -0.70, -0.82, -0.95, -1.00, -0.92, -0.80, -0.60, -0.40, -0.10, 0.30, 0.78, 0.92],
    [1.00, 0.76, 0.38, 0.02, -0.18, -0.28, -0.32, -0.18, -0.20, -0.30, -0.40, -0.50, -0.58, -0.70, -0.85, -0.99, -0.95, -0.55, -0.10, 0.40, 0.85, 1.00],
    [1.00, 0.72, 0.28, -0.08, -0.28, -0.40, -0.42, -0.30, -0.38, -0.48, -0.52, -0.58, -0.62, -0.75, -0.95, -1.00, -0.88, -0.52, -0.15, 0.30, 0.78, 0.92],
    [1.00, 0.80, 0.42, 0.08, -0.12, -0.22, -0.25, -0.12, -0.12, -0.20, -0.35, -0.48, -0.58, -0.72, -0.88, -0.98, -0.98, -0.62, -0.20, 0.28, 0.72, 0.88],
    [1.00, 0.69, 0.20, -0.15, -0.35, -0.48, -0.55, -0.48, -0.45, -0.52, -0.65, -0.78, -0.82, -0.80, -0.75, -0.85, -0.98, -0.70, -0.25, 0.20, 0.70, 0.85],
    [1.00, 0.77, 0.40, 0.05, -0.16, -0.26, -0.34, -0.22, -0.25, -0.35, -0.48, -0.60, -0.75, -0.90, -0.99, -0.98, -0.90, -0.60, -0.20, 0.30, 0.80, 0.95],
]

titles = ["Subclass %d of C2" % i for i in range(1, 9)]
groups = [subclass1, subclass2, subclass3, subclass4,
          subclass5, subclass6, subclass7, subclass8]

x_ticks = list(range(0, 1001, 100))
y_ticks = [-1, -0.8, -0.6, -0.4, -0.2, 0, 0.2, 0.4, 0.6, 0.8, 1]
y_labels = ["-1", "-0.8", "-0.6", "-0.4", "-0.2", "0", "0.2", "0.4", "0.6", "0.8", "1"]

plt.rcParams['font.family'] = ['Liberation Sans', 'DejaVu Sans']

W, H = 1338, 525
fig = plt.figure(figsize=(W / 100, H / 100), dpi=100)

# axes boxes in pixels: left, top, right, bottom
boxes = [
    (27, 33, 331, 240), (362, 33, 667, 240), (693, 33, 998, 240), (1023, 33, 1328, 240),
    (28, 304, 333, 514), (358, 308, 664, 514), (690, 308, 995, 514), (1020, 308, 1326, 514),
]

for (l, t, r, b), title, curves in zip(boxes, titles, groups):
    ax = fig.add_axes([l / W, 1 - b / H, (r - l) / W, (b - t) / H])
    for c in curves:
        ax.plot(x_knots, c, color='0.15', lw=0.55, alpha=0.85)
    ax.set_xlim(0, 1033)
    ax.set_ylim(-1.1, 1.1)
    ax.set_xticks(x_ticks)
    ax.set_yticks(y_ticks)
    ax.set_yticklabels(y_labels)
    ax.tick_params(direction='in', length=3, width=0.5, labelsize=6.5, pad=2,
                   colors='0.3', labelcolor='black', top=True, right=True)
    for lab in ax.get_xticklabels() + ax.get_yticklabels():
        lab.set_fontweight('bold')
    ax.grid(True, linestyle=(0, (1, 2)), color='0.55', lw=0.6)
    for s in ax.spines.values():
        s.set_color('0.6')
        s.set_linewidth(0.8)
    ax.set_title(title, fontsize=10.5, fontweight='bold', pad=7)

fig.savefig("out.png", dpi=100)
